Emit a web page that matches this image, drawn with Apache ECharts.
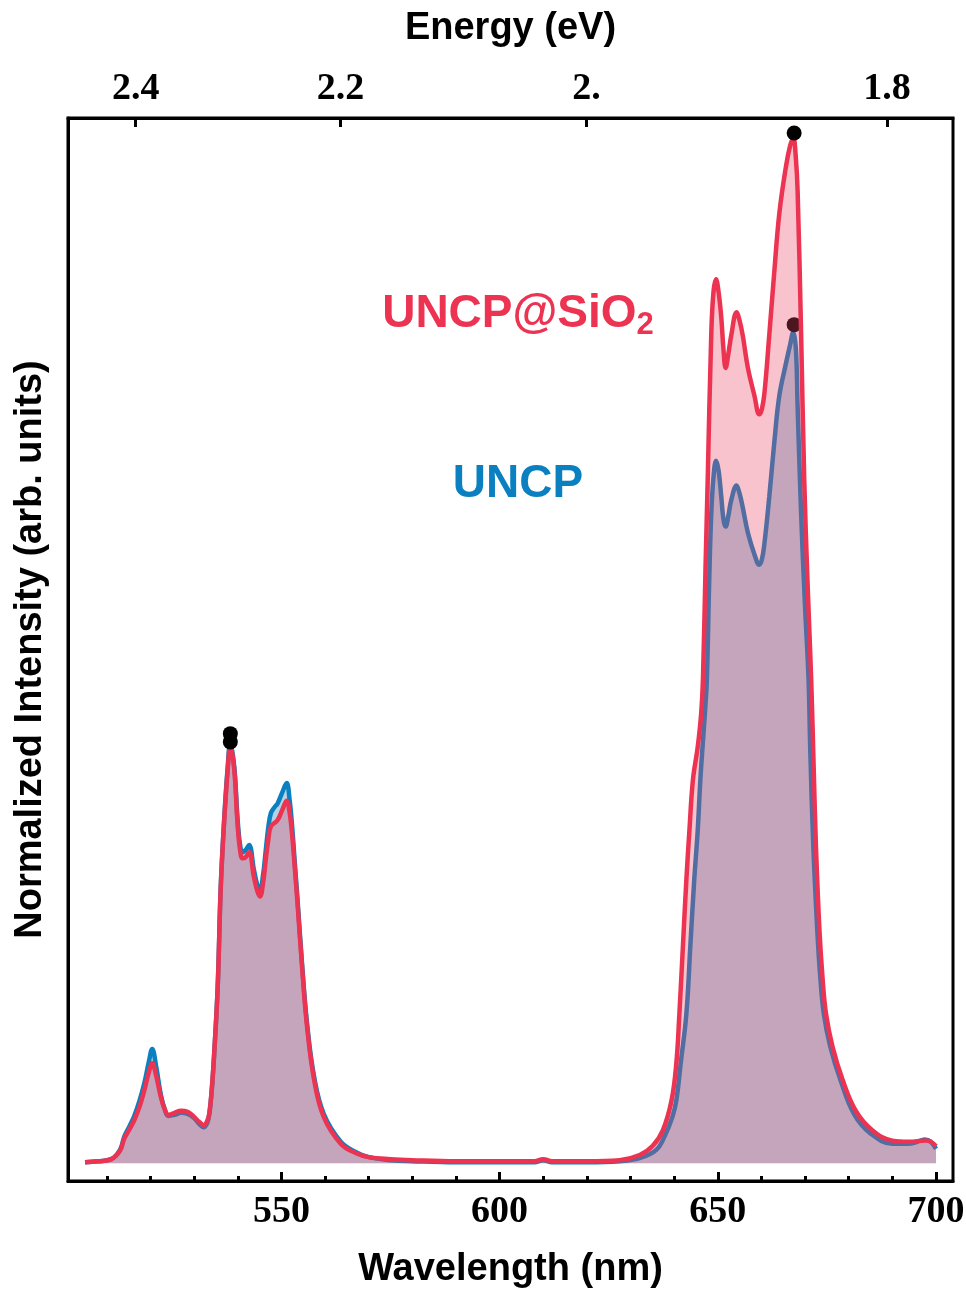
<!DOCTYPE html>
<html>
<head>
<meta charset="utf-8">
<script src="https://cdn.jsdelivr.net/npm/echarts@6/dist/echarts.min.js"></script>
<style>
html,body{margin:0;padding:0;background:#fff;}
#chart{width:966px;height:1289px;}
</style>
</head>
<body>
<div id="chart"></div>
<script>
// ---- Data ----
const wavelengthUNCP = [505,508,511,513,514,515.2,516.3,517.5,518.6,519.6,520.4,521.3,522.4,523.3,524.1,525.5,527,528.5,530,531.2,532.2,533,533.5,534.1,534.6,535.4,536.1,536.9,537.7,538.3,539.2,539.9,540.5,541.1,541.8,542.6,543.7,544.5,545.1,545.8,546.4,547.0,547.6,548.5,549.1,550.2,551.2,551.9,552.5,553.1,553.7,554.8,555.9,557.5,559.7,563.6,567,570,575,580,590,600,608,610,612,620,627.5,632.1,635.9,638,639.6,640.5,641.5,642.8,643.7,644.6,645.4,646.0,646.5,647.1,647.5,648.0,648.5,649.0,649.6,650.2,650.8,651.3,651.8,652.4,653.1,654.3,655.0,655.7,656.9,658.4,659.5,660.1,660.7,661.8,663.0,664.1,665.6,666.6,667.3,667.9,668.3,669.1,670.0,670.8,671.2,671.9,672.8,673.5,674.3,675.8,678.1,681.2,685.0,690,693.8,696.5,697.4,698.8,700];
const intensityUNCP = [0.001,0.002,0.004,0.013,0.026,0.036,0.046,0.061,0.078,0.098,0.111,0.094,0.066,0.052,0.046,0.047,0.049,0.048,0.044,0.038,0.035,0.039,0.048,0.074,0.106,0.171,0.268,0.335,0.385,0.408,0.385,0.338,0.310,0.302,0.304,0.309,0.285,0.270,0.265,0.280,0.303,0.326,0.340,0.346,0.349,0.360,0.369,0.352,0.325,0.290,0.256,0.190,0.135,0.084,0.048,0.021,0.011,0.006,0.003,0.002,0.001,0.001,0.001,0.003,0.001,0.001,0.002,0.005,0.013,0.028,0.045,0.061,0.097,0.145,0.210,0.275,0.323,0.372,0.404,0.440,0.470,0.560,0.630,0.665,0.682,0.672,0.647,0.625,0.618,0.628,0.644,0.658,0.650,0.637,0.612,0.591,0.581,0.586,0.602,0.647,0.702,0.745,0.776,0.795,0.807,0.790,0.734,0.630,0.540,0.470,0.400,0.307,0.226,0.180,0.145,0.113,0.081,0.048,0.029,0.019,0.019,0.022,0.023,0.021,0.014];

const wavelengthSiO2 = [505,508,511,513,514,515.2,516.3,517.5,518.6,519.6,520.4,521.3,522.4,523.3,524.1,525.5,527,528.5,530,531.2,532.2,533,533.5,534.1,534.6,535.4,536.1,536.9,537.7,538.3,539.2,539.9,540.5,541.1,541.8,542.6,543.7,544.5,545.1,545.8,546.4,547.0,547.6,549.1,550.2,551.2,551.9,552.5,553.1,553.7,554.8,555.9,557.5,559.7,563.6,567,570,575,580,590,600,608,610,612,620,627.5,632.1,635.1,637.4,639.4,640.5,641.2,642.0,642.8,643.5,644.3,645.4,646.2,646.6,647.2,647.7,648.5,649.0,649.6,650.2,650.8,651.3,651.8,652.4,653.1,654.3,655.0,655.7,656.9,658.4,659.5,660.1,660.7,661.8,663.0,664.1,665.6,666.6,667.3,667.9,668.3,669.1,669.8,670.6,671.4,672.0,672.5,673.3,674.0,674.8,676.3,678.6,681.6,685.4,690,693.8,697.6,698.8,700];
const intensitySiO2 = [0.001,0.002,0.004,0.012,0.024,0.033,0.042,0.055,0.071,0.088,0.097,0.085,0.064,0.052,0.047,0.049,0.051,0.050,0.045,0.040,0.037,0.041,0.049,0.075,0.107,0.171,0.268,0.333,0.382,0.405,0.382,0.333,0.305,0.296,0.297,0.302,0.278,0.264,0.259,0.272,0.294,0.314,0.327,0.333,0.343,0.352,0.340,0.317,0.285,0.252,0.187,0.132,0.081,0.045,0.019,0.010,0.006,0.004,0.003,0.002,0.002,0.002,0.004,0.002,0.002,0.003,0.008,0.017,0.032,0.061,0.097,0.145,0.210,0.275,0.323,0.372,0.404,0.437,0.470,0.580,0.665,0.804,0.845,0.858,0.845,0.821,0.790,0.772,0.785,0.804,0.826,0.818,0.804,0.772,0.745,0.727,0.732,0.748,0.804,0.868,0.922,0.967,0.988,0.995,0.975,0.943,0.804,0.665,0.560,0.470,0.380,0.307,0.226,0.180,0.145,0.113,0.081,0.051,0.032,0.022,0.021,0.022,0.021,0.0165];

// marked peak maxima
const peakWavelengthUNCP = [538.3, 667.5];
const peakIntensityUNCP = [0.417, 0.814];
const peakWavelengthSiO2 = [538.3, 667.5];
const peakIntensitySiO2 = [0.409, 1.0];

// axis ticks
const wavelengthMajorTicks = [550, 600, 650, 700];
const wavelengthMinorTicks = [510,520,530,540,550,560,570,580,590,600,610,620,630,640,650,660,670,680,690,700];
const energyTicks = [2.4, 2.2, 2.0, 1.8];
const energyTickLabels = ['2.4', '2.2', '2.', '1.8'];
const HC = 1239.84; // eV*nm

const pairs = (xs, ys) => xs.map((x, i) => [x, ys[i]]);
const energyAsWavelength = energyTicks.map(e => HC / e);

const X_MIN = 501.1, X_MAX = 703.9;
const Y_MIN = -0.0172, Y_MAX = 1.0146;

const RED = '#ec3352';
const BLUE = '#0a80c0';
const serif = '"Liberation Serif", "Times New Roman", serif';
const sans = '"Liberation Sans", Arial, sans-serif';

const chart = echarts.init(document.getElementById('chart'), null, {renderer: 'canvas'});

const option = {
  backgroundColor: '#fff',
  animation: false,
  grid: {
    left: 68, right: 13, top: 118, bottom: 108,
    containLabel: false, outerBoundsMode: 'none',
    show: true, borderColor: '#000', borderWidth: 3, backgroundColor: 'transparent'
  },
  xAxis: [
    { // bottom, major ticks + labels + name
      type: 'value', position: 'bottom', min: X_MIN, max: X_MAX,
      axisLine: {show: true, onZero: false, lineStyle: {color: '#000', width: 3}},
      splitLine: {show: false},
      axisTick: {show: true, inside: true, length: 9, customValues: wavelengthMajorTicks, lineStyle: {color: '#000', width: 3}},
      axisLabel: {show: true, customValues: wavelengthMajorTicks, margin: 12, color: '#000',
        fontFamily: serif, fontWeight: 'bold', fontSize: 38, formatter: v => String(Math.round(v))},
      name: 'Wavelength (nm)', nameLocation: 'middle', nameGap: 70,
      nameTextStyle: {fontFamily: sans, fontWeight: 'bold', fontSize: 38, color: '#000'}
    },
    { // bottom, minor ticks
      type: 'value', position: 'bottom', min: X_MIN, max: X_MAX,
      axisLine: {show: false, onZero: false}, splitLine: {show: false},
      axisTick: {show: true, inside: true, length: 5, customValues: wavelengthMinorTicks, lineStyle: {color: '#000', width: 3}},
      axisLabel: {show: false}
    },
    { // top, energy scale
      type: 'value', position: 'top', min: X_MIN, max: X_MAX,
      axisLine: {show: true, onZero: false, lineStyle: {color: '#000', width: 3}},
      splitLine: {show: false},
      axisTick: {show: true, inside: true, length: 9, customValues: energyAsWavelength, lineStyle: {color: '#000', width: 3}},
      axisLabel: {show: true, customValues: energyAsWavelength, margin: 10, color: '#000',
        fontFamily: serif, fontWeight: 'bold', fontSize: 38,
        formatter: v => {
          let best = 0, d = Infinity;
          energyTicks.forEach((e, i) => { const dd = Math.abs(HC / e - v); if (dd < d) { d = dd; best = i; } });
          return energyTickLabels[best];
        }},
      name: 'Energy (eV)', nameLocation: 'middle', nameGap: 70,
      nameTextStyle: {fontFamily: sans, fontWeight: 'bold', fontSize: 38, color: '#000'}
    }
  ],
  yAxis: {
    type: 'value', min: Y_MIN, max: Y_MAX,
    axisLine: {show: true, onZero: false, lineStyle: {color: '#000', width: 3}},
    axisTick: {show: false}, axisLabel: {show: false}, splitLine: {show: false},
    name: 'Normalized Intensity (arb. units)', nameLocation: 'middle', nameGap: 18, nameRotate: 90,
    nameTextStyle: {fontFamily: sans, fontWeight: 'bold', fontSize: 38, color: '#000'}
  },
  series: [
    {
      name: 'UNCP', type: 'line', xAxisIndex: 0, z: 2,
      data: pairs(wavelengthUNCP, intensityUNCP),
      showSymbol: false, smooth: 0.4,
      lineStyle: {color: BLUE, width: 4.5},
      areaStyle: {color: '#b3d3e6', opacity: 1, origin: 0}
    },
    {
      name: 'UNCP peaks', type: 'scatter', xAxisIndex: 0, z: 2,
      data: pairs(peakWavelengthUNCP, peakIntensityUNCP),
      symbolSize: 15, itemStyle: {color: '#000', opacity: 1}
    },
    {
      name: 'UNCP@SiO2', type: 'line', xAxisIndex: 0, z: 3,
      data: pairs(wavelengthSiO2, intensitySiO2),
      showSymbol: false, smooth: 0.4,
      lineStyle: {color: RED, width: 4.5},
      areaStyle: {color: 'rgb(233,69,97)', opacity: 0.32, origin: 0}
    },
    {
      name: 'UNCP@SiO2 peaks', type: 'scatter', xAxisIndex: 0, z: 4,
      data: pairs(peakWavelengthSiO2, peakIntensitySiO2),
      symbolSize: 15, itemStyle: {color: '#000', opacity: 1}
    }
  ],
  graphic: [
    {
      type: 'text', z: 10, x: 518, y: 314,
      style: {
        align: 'center', verticalAlign: 'middle',
        text: '{a|UNCP@SiO}{b|2}',
        rich: {
          a: {fontFamily: sans, fontWeight: 'bold', fontSize: 46, fill: RED},
          b: {fontFamily: sans, fontWeight: 'bold', fontSize: 31, fill: RED, padding: [22, 0, 0, 0]}
        }
      }
    },
    {
      type: 'text', z: 10, x: 518, y: 484,
      style: {align: 'center', verticalAlign: 'middle', text: 'UNCP', fontFamily: sans, fontWeight: 'bold', fontSize: 46, fill: BLUE}
    }
  ]
};
chart.setOption(option);
</script>
</body>
</html>
